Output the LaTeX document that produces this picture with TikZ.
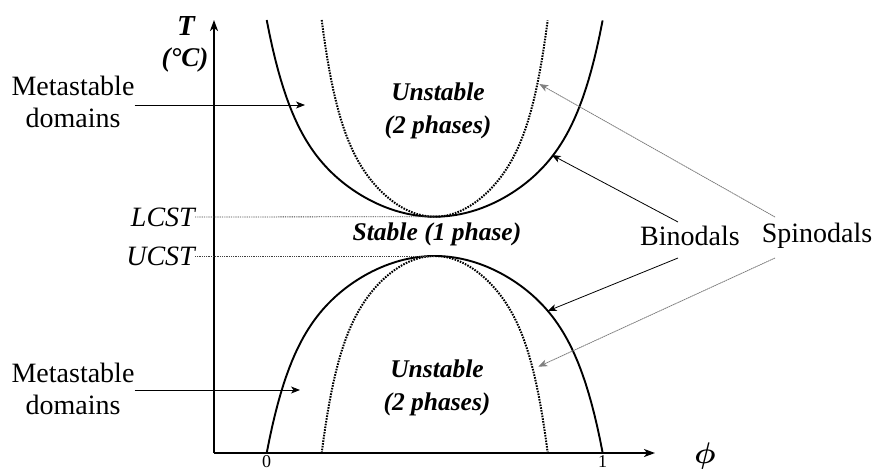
\documentclass[tikz,border=0pt]{standalone}
\usepackage{amsmath}
\usepackage{fontspec}
\setmainfont{Liberation Serif}
\usetikzlibrary{arrows.meta}
\begin{document}
\begin{tikzpicture}[x=1pt,y=-1pt,
  declare function={ff(\x)=0.56*(\x*\x)+0.04*(\x*\x)*(\x*\x)+0.40*(\x*\x)*(\x*\x)*(\x*\x)*(\x*\x);},
  axis/.style={line width=1.8pt, -{Stealth[length=11pt,width=8pt,inset=3pt]}},
  binodal/.style={line width=1.9pt},
  spinodal/.style={line width=2pt, dash pattern=on 1.6pt off 1.2pt},
  pointer/.style={line width=0.8pt, -{Stealth[length=9pt,width=7pt,inset=2.5pt]}},
  spinpointer/.style={pointer, draw=black!50, fill=black!50, dash pattern=on 1.5pt off 0.6pt},
  guide/.style={line width=0.8pt, dash pattern=on 0.9pt off 0.9pt, draw=black!75},
  lbl/.style={font=\fontsize{28}{32}\selectfont, inner sep=0pt, align=center},
  ital/.style={font=\fontsize{28}{32}\selectfont\itshape, inner sep=0pt},
  bilbl/.style={font=\fontsize{25.5}{33}\selectfont\bfseries\itshape, inner sep=0pt, align=center},
  ticklbl/.style={font=\fontsize{18}{19}\selectfont, inner sep=0pt, anchor=north}
]
\useasboundingbox (0,0) rectangle (875,471);

% axes
\coordinate (O) at (214,453);
\coordinate (ytop) at (214,20);
\coordinate (xend) at (655,453);
\draw[axis] (O) -- (ytop);
\draw[axis] (O) -- (xend);

\node[bilbl, font=\fontsize{29}{30}\selectfont\bfseries\itshape] (Tlab) at (186,26) {T};
\node[bilbl, font=\fontsize{27}{30}\selectfont\bfseries\itshape] (Clab) at (185,60) {(°C)};
\node[inner sep=0pt, scale=1.2, font=\fontsize{25}{28}\selectfont] (philab) at (705,456) {$\boldsymbol{\phi}$};
\node[ticklbl] (zero) at (266.7,455.5) {0};
\node[ticklbl] (one) at (602.7,455.5) {1};

% upper (LCST) curves
\draw[binodal] plot[domain=-1:1, samples=121] ({434.7+168*\x},{216.7-196.7*ff(\x)});
\draw[spinodal] plot[domain=-1:1, samples=121] ({434.7+113*\x},{216.7-196.7*ff(\x)});
% lower (UCST) curves
\draw[binodal] plot[domain=-1:1, samples=121] ({434.7+168*\x},{256+197*ff(\x)});
\draw[spinodal] plot[domain=-1:1, samples=121] ({434.7+113*\x},{256+197*ff(\x)});

\coordinate (lcmin) at (434.7,216.7);
\coordinate (ucmax) at (434.7,256);

% LCST / UCST
\node[ital, anchor=east] (lcst) at (195,217) {LCST};
\node[ital, anchor=east] (ucst) at (195,256) {UCST};
\draw[guide] (lcst.east) -- (lcmin);
\draw[guide] (ucst.east) -- (ucmax);

% region labels
\node[bilbl] (unst1) at (438,111) {Unstable\\(2 phases)};
\node[bilbl] (stable) at (437,234) {Stable (1 phase)};
\node[bilbl] (unst2) at (437,388) {Unstable\\(2 phases)};

% metastable
\node[lbl] (meta1) at (73,102) {Metastable\\domains};
\node[lbl] (meta2) at (73,389) {Metastable\\domains};
\coordinate (m1tip) at (305,105);
\coordinate (m2tip) at (300,390);
\draw[pointer] (meta1.east |- m1tip) -- (m1tip);
\draw[pointer] (meta2.east |- m2tip) -- (m2tip);

% binodals / spinodals
\node[lbl] (bino) at (690,236) {Binodals};
\node[lbl] (spino) at (817,236) {Spinodals};
\coordinate (b1s) at (678,222);
\coordinate (b2s) at (678,258);
\coordinate (b1t) at (551.7,155);
\coordinate (b2t) at (547.7,311);
\coordinate (s1s) at (775,217);
\coordinate (s2s) at (775,258);
\coordinate (s1t) at (539.3,84);
\coordinate (s2t) at (538.3,366.7);
\draw[pointer] (b1s) -- (b1t);
\draw[pointer] (b2s) -- (b2t);
\draw[spinpointer] (s1s) -- (s1t);
\draw[spinpointer] (s2s) -- (s2t);
\end{tikzpicture}
\end{document}
